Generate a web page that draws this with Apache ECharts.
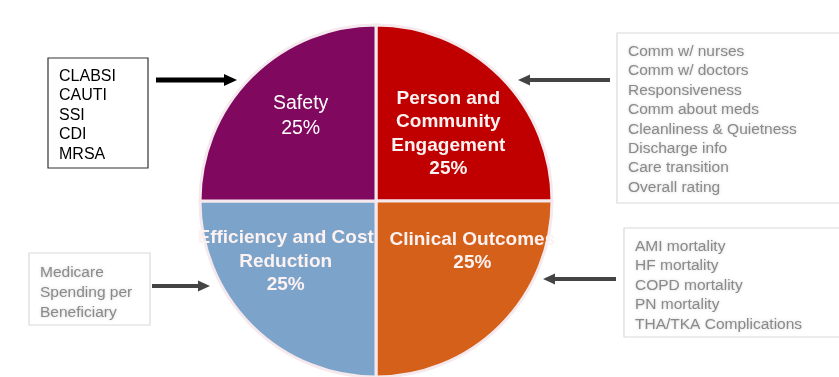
<!DOCTYPE html>
<html>
<head>
<meta charset="utf-8">
<script src="https://cdn.jsdelivr.net/npm/echarts@6/dist/echarts.min.js"></script>
<style>
  html, body { margin: 0; padding: 0; background: #fff; }
  #chart { width: 839px; height: 377px; }
</style>
</head>
<body>
<div id="chart"></div>
<script>
// slices, clockwise from 12 o'clock
const domains = ['Person and\nCommunity\nEngagement', 'Clinical Outcomes', 'Efficiency and Cost\nReduction', 'Safety'];
const weights = [25, 25, 25, 25];
const sliceColors = ['#c00000', '#d5601a', '#7ca3c9', '#80085f'];

// measures feeding each domain
const safetyMeasures = ['CLABSI', 'CAUTI', 'SSI', 'CDI', 'MRSA'];
const engagementMeasures = ['Comm w/ nurses', 'Comm w/ doctors', 'Responsiveness', 'Comm about meds',
  'Cleanliness & Quietness', 'Discharge info', 'Care transition', 'Overall rating'];
const outcomeMeasures = ['AMI mortality', 'HF mortality', 'COPD mortality', 'PN mortality', 'THA/TKA Complications'];
const efficiencyMeasures = ['Medicare', 'Spending per', 'Beneficiary'];

const chart = echarts.init(document.getElementById('chart'));

// label nudges from the default inside spot
const labelShift = [[8, -3], [32, -14], [-26, -4], [-11, -21]];

function box(x, y, w, h, lines, color, border, size, lh) {
  return {
    type: 'group',
    children: [
      { type: 'rect', shape: { x: x, y: y, width: w, height: h },
        style: { fill: '#fff', stroke: border, lineWidth: 1.2 } },
      { type: 'text', x: x + 11, y: y + (lh - size) / 2 + 7,
        style: { text: lines.join('\n'), fill: color, font: size + 'px "Liberation Sans", Arial',
          lineHeight: lh, textShadowColor: color === '#000' ? 'transparent' : 'rgba(120,120,120,0.35)', textShadowBlur: 3 } }
    ]
  };
}

function arrow(x1, x2, y, color, w, head) {
  const dir = x2 > x1 ? 1 : -1;
  return {
    type: 'group',
    children: [
      { type: 'line', shape: { x1: x1, y1: y, x2: x2 - dir * head, y2: y },
        style: { stroke: color, lineWidth: w } },
      { type: 'polygon', shape: { points: [[x2 - dir * (head + 2), y - head * 0.55], [x2, y], [x2 - dir * (head + 2), y + head * 0.55]] },
        style: { fill: color } }
    ]
  };
}

chart.setOption({
  animation: false,
  series: [{
    type: 'pie',
    center: [376, 201],
    radius: 176,
    startAngle: 90,
    clockwise: true,
    silent: true,
    itemStyle: { borderColor: '#f6e9ee', borderWidth: 3 },
    label: {
      show: true,
      position: 'inside',
      color: '#fcf2f2',
      fontFamily: '"Liberation Sans", Arial',
      fontSize: 19,
      fontWeight: 'bold',
      lineHeight: 23.5,
      formatter: p => p.name + '\n' + p.value + '%'
    },
    labelLayout: p => ({ dx: labelShift[p.dataIndex][0], dy: labelShift[p.dataIndex][1] }),
    data: domains.map((d, i) => {
      const item = { name: d, value: weights[i], itemStyle: { color: sliceColors[i] } };
      if (d === 'Safety') item.label = { color: '#fff', fontWeight: 'normal', fontSize: 19.5, lineHeight: 25 };
      return item;
    })
  }],
  graphic: [
    box(48, 58, 100, 110, safetyMeasures, '#000', '#333', 16, 19.5),
    box(617, 33, 240, 170, engagementMeasures, '#8a8a8a', '#dadada', 15.5, 19.4),
    box(624, 228, 230, 109, outcomeMeasures, '#8a8a8a', '#dadada', 15.5, 19.4),
    box(29, 253, 121, 72, efficiencyMeasures, '#8a8a8a', '#dadada', 15.5, 20),
    arrow(156, 237, 80, '#000', 5, 11),
    arrow(610, 518, 80, '#444', 4, 10),
    arrow(616, 543, 279, '#444', 4, 10),
    arrow(152, 210, 286, '#444', 4, 10)
  ]
});
</script>
</body>
</html>
